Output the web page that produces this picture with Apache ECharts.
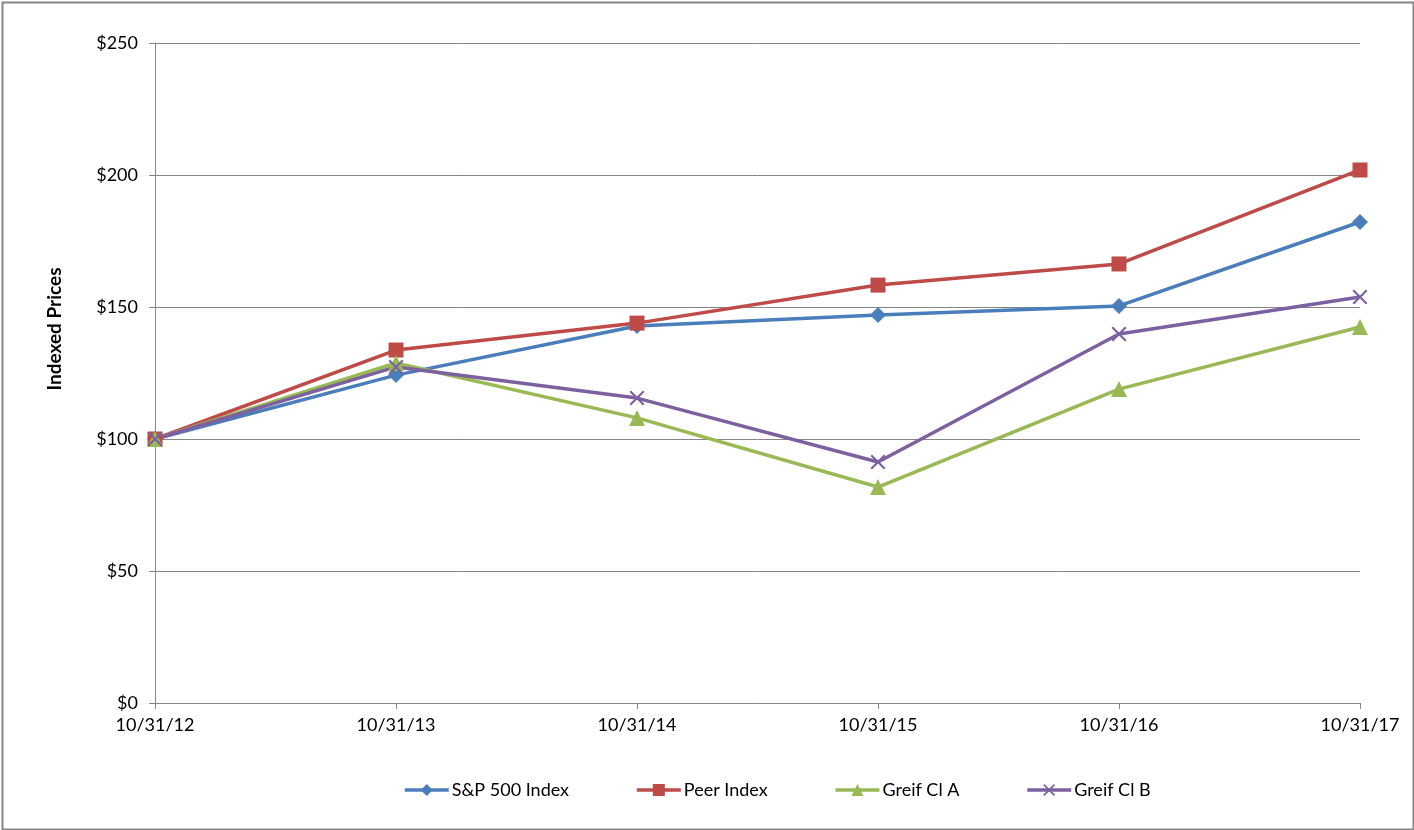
<!DOCTYPE html>
<html><head><meta charset="utf-8">
<script src="https://cdn.jsdelivr.net/npm/echarts@6/dist/echarts.min.js"></script>
<style>html,body{margin:0;padding:0;background:#fff}#c{width:1414px;height:830px}</style>
</head><body><div id="c"></div>
<script>
var categories = ['10/31/12','10/31/13','10/31/14','10/31/15','10/31/16','10/31/17'];
var sp500 = [100, 124.2, 142.8, 147.0, 150.4, 182.2];
var peer = [100, 133.7, 143.9, 158.3, 166.3, 201.9];
var greifA = [100, 128.8, 108.0, 81.8, 118.9, 142.4];
var greifB = [100, 127.3, 115.5, 91.3, 139.8, 153.8];
var yTicks = [0, 50, 100, 150, 200, 250];

var FONT = 'Lato';
var xPath = 'path://M0,2 L2,0 L10,8 L18,0 L20,2 L12,10 L20,18 L18,20 L10,12 L2,20 L0,18 L8,10 Z';
function s(name, data, color, symbol, size) {
  return {
    name: name, type: 'line', data: data, symbol: symbol, symbolSize: size,
    lineStyle: {width: 3.5, color: color}, itemStyle: {color: color},
    emphasis: {disabled: true}, animation: false
  };
}
var chart = echarts.init(document.getElementById('c'));
chart.setOption({
  animation: false,
  textStyle: {fontFamily: FONT},
  grid: {left: 155, right: 54, top: 43, bottom: 127},
  xAxis: {
    type: 'category', data: categories, boundaryGap: false,
    axisLine: {lineStyle: {color: '#868686', width: 1}},
    axisTick: {show: true, length: 6, alignWithLabel: true, lineStyle: {color: '#868686'}},
    axisLabel: {color: '#000', fontSize: 18, margin: 13, fontFamily: FONT}
  },
  yAxis: {
    type: 'value', min: yTicks[0], max: yTicks[yTicks.length-1], interval: 50,
    axisLine: {show: true, lineStyle: {color: '#868686'}},
    axisTick: {show: true, length: 6, lineStyle: {color: '#868686'}},
    splitLine: {lineStyle: {color: '#868686', width: 1}},
    axisLabel: {color: '#000', fontSize: 18, margin: 17, fontFamily: FONT, formatter: function(v){return '$' + v;}}
  },
  legend: {
    bottom: 26, left: 398, itemGap: 66, itemWidth: 44, itemHeight: 15,
    lineStyle: {width: 3.5},
    textStyle: {color: '#000', fontSize: 18, fontFamily: FONT, padding: [0,0,0,-2]},
    data: ['S&P 500 Index','Peer Index','Greif Cl A','Greif Cl B']
  },
  graphic: [
    {type: 'rect', left: 0, top: 0, shape: {x: 1, y: 1, width: 1411, height: 827}, style: {fill: 'none', stroke: '#868686', lineWidth: 2}, silent: true},
    {type: 'text', x: 55, y: 329, rotation: Math.PI/2, style: {text: 'Indexed Prices', fill: '#000', font: 'bold 19px ' + FONT, textAlign: 'center', textVerticalAlign: 'middle'}}
  ],
  series: [
    s('S&P 500 Index', sp500, '#4A7EBB', 'diamond', 16),
    s('Peer Index', peer, '#BE4B48', 'rect', 15),
    s('Greif Cl A', greifA, '#98B954', 'triangle', 16),
    s('Greif Cl B', greifB, '#7D60A0', xPath, 15)
  ]
});
</script></body></html>
